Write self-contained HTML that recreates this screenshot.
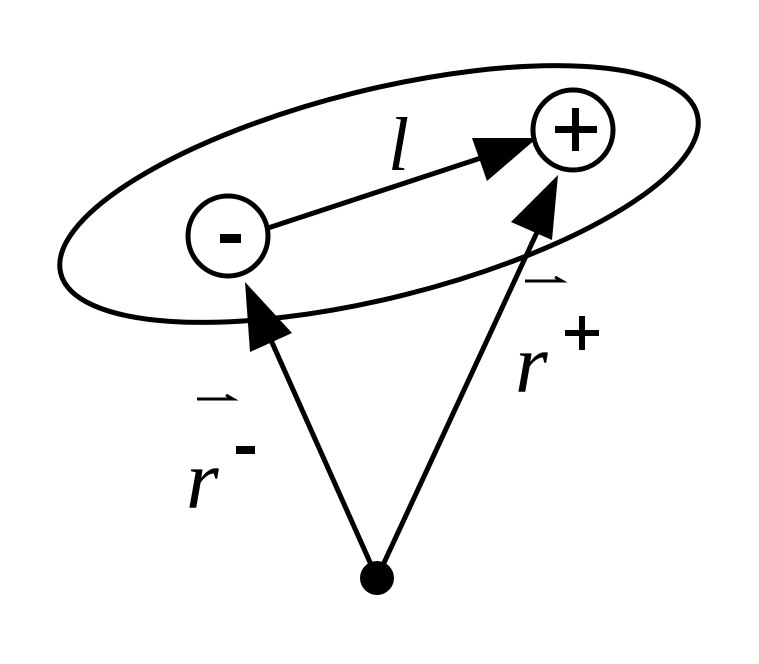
<!DOCTYPE html>
<html><head><style>body{margin:0;background:#fff}</style></head><body>
<svg width="759" height="659" viewBox="0 0 759 659" xmlns="http://www.w3.org/2000/svg">
<ellipse cx="379" cy="194" rx="328" ry="104" transform="rotate(-14 379 194)" fill="none" stroke="#000" stroke-width="5"/>
<circle cx="228" cy="236" r="40" fill="#fff" stroke="#000" stroke-width="5"/>
<circle cx="573" cy="130" r="40" fill="#fff" stroke="#000" stroke-width="5"/>
<line x1="268" y1="228" x2="490" y2="155" stroke="#000" stroke-width="5"/>
<polygon points="537,138 487,181 472,138" fill="#000"/>
<line x1="377" y1="578" x2="262" y2="320" stroke="#000" stroke-width="5"/>
<polygon points="245,282 292,333 250,352" fill="#000"/>
<line x1="377" y1="578" x2="545" y2="215" stroke="#000" stroke-width="5"/>
<polygon points="558,175 552,240 511,222" fill="#000"/>
<circle cx="377" cy="578" r="17" fill="#000"/>
<rect x="220" y="234" width="21" height="9" fill="#000"/>
<rect x="555" y="126" width="42" height="7" fill="#000"/>
<rect x="572" y="108" width="7" height="43" fill="#000"/>
<text x="388" y="170" font-family="Liberation Serif,serif" font-style="italic" font-size="76">l</text>
<text x="186" y="508" font-family="Liberation Serif,serif" font-style="italic" font-size="84">r</text>
<rect x="236" y="446" width="19" height="8" fill="#000"/>
<text x="515" y="392" font-family="Liberation Serif,serif" font-style="italic" font-size="84">r</text>
<rect x="565" y="330" width="34" height="6" fill="#000"/>
<rect x="579" y="316" width="6" height="34" fill="#000"/>
<path d="M197,399 L233,399 L226,395" fill="none" stroke="#000" stroke-width="3"/>
<path d="M525,281 L562,281 L555,277" fill="none" stroke="#000" stroke-width="3"/>
</svg>
</body></html>
